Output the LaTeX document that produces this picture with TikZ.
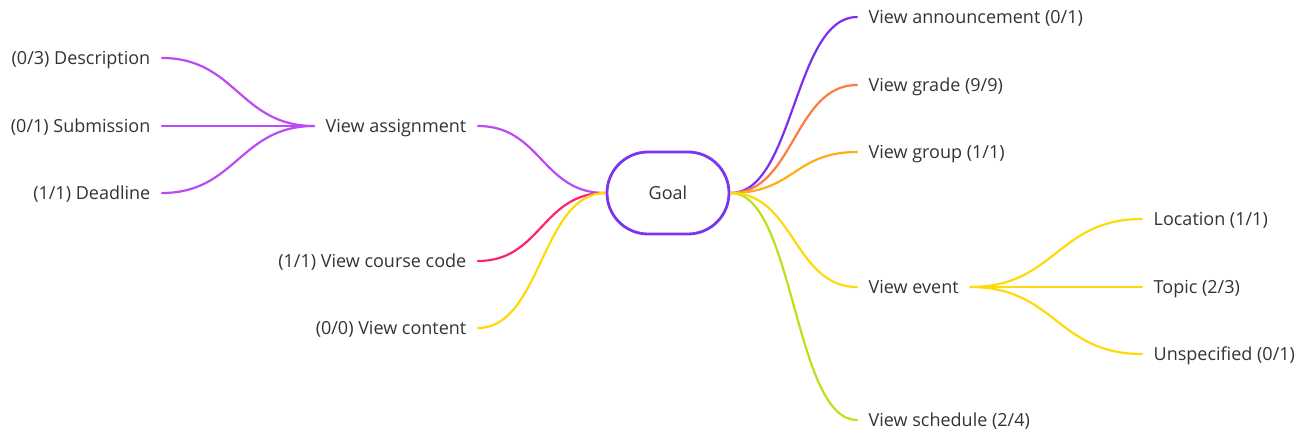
\documentclass[tikz,border=0pt]{standalone}
\usepackage{fontspec}
\setmainfont{Open Sans}
\usetikzlibrary{shapes.misc}
\definecolor{cviolet}{HTML}{7A2FF5}
\definecolor{cgoal}{HTML}{7B35F0}
\definecolor{corange}{HTML}{FF7A45}
\definecolor{camber}{HTML}{FFAE1A}
\definecolor{cyellow}{HTML}{FFDA0A}
\definecolor{clime}{HTML}{B8E21C}
\definecolor{cpurple}{HTML}{BB4CF4}
\definecolor{cpink}{HTML}{FF2272}
\definecolor{ctext}{HTML}{333333}
\begin{document}
\begin{tikzpicture}[x=1pt,y=-1pt,
  lbl/.style={font=\fontsize{18}{20}\selectfont, text=ctext, inner xsep=11.5pt, inner ysep=0pt, text height=13pt, text depth=0pt},
  lblr/.style={lbl, anchor=west},
  lbll/.style={lbl, anchor=east},
  conn/.style={line width=2.2pt, line cap=round},
  goalbox/.style={rounded rectangle, draw=cgoal, line width=2.8pt, minimum width=122pt, minimum height=82pt, font=\fontsize{18}{20}\selectfont, text=ctext, inner sep=0pt}
]
\useasboundingbox (0,0) rectangle (1309,437);
\node[goalbox] (goal) at (668,193) {Goal};
\coordinate (gr) at (731,193);
\coordinate (gl) at (605,193);
% right
\node[lblr] (ann) at (857,17) {View announcement (0/1)};
\node[lblr] (grade) at (857,85) {View grade (9/9)};
\node[lblr] (group) at (857,152) {View group (1/1)};
\node[lblr] (event) at (857,287) {View event};
\node[lblr] (sched) at (857,420) {View schedule (2/4)};
\node[lblr] (loc) at (1142,219) {Location (1/1)};
\node[lblr] (topic) at (1142,287) {Topic (2/3)};
\node[lblr] (unsp) at (1142,354) {Unspecified (0/1)};
% left
\node[lbll] (assign) at (478,126) {View assignment};
\node[lbll] (code) at (478,261) {(1/1) View course code};
\node[lbll] (content) at (478,328) {(0/0) View content};
\node[lbll] (desc) at (162,58) {(0/3) Description};
\node[lbll] (subm) at (162,126) {(0/1) Submission};
\node[lbll] (dead) at (162,193) {(1/1) Deadline};
% connectors right
\draw[conn, cviolet] (gr) .. controls +(63,0) and +(-63,0) .. (ann.west);
\draw[conn, corange] (gr) .. controls +(63,0) and +(-63,0) .. (grade.west);
\draw[conn, camber] (gr) .. controls +(63,0) and +(-63,0) .. (group.west);
\draw[conn, clime] (gr) .. controls +(63,0) and +(-63,0) .. (sched.west);
\draw[conn, cyellow] (gr) .. controls +(63,0) and +(-63,0) .. (event.west);
\draw[conn, cyellow] (event.east) .. controls +(85,0) and +(-85,0) .. (loc.west);
\draw[conn, cyellow] (event.east) -- (topic.west);
\draw[conn, cyellow] (event.east) .. controls +(85,0) and +(-85,0) .. (unsp.west);
% connectors left
\draw[conn, cpurple] (gl) .. controls +(-63,0) and +(63,0) .. (assign.east);
\draw[conn, cpink] (gl) .. controls +(-63,0) and +(63,0) .. (code.east);
\draw[conn, cyellow] (gl) .. controls +(-63,0) and +(63,0) .. (content.east);
\draw[conn, cpurple] (assign.west) .. controls +(-74,0) and +(74,0) .. (desc.east);
\draw[conn, cpurple] (assign.west) -- (subm.east);
\draw[conn, cpurple] (assign.west) .. controls +(-74,0) and +(74,0) .. (dead.east);
\end{tikzpicture}
\end{document}
